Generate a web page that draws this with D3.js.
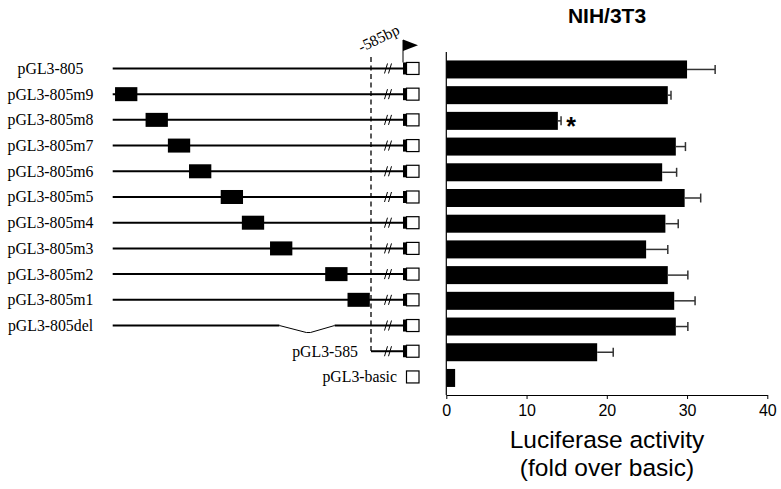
<!DOCTYPE html>
<html>
<head>
<meta charset="utf-8">
<script src="https://cdn.jsdelivr.net/npm/d3@7"></script>
<style>
  body { margin: 0; background: #fff; }
  svg { display: block; }
</style>
</head>
<body>
<svg id="chart" width="781" height="489"></svg>
<script>
// constructs, top to bottom
const constructs = ["pGL3-805", "pGL3-805m9", "pGL3-805m8", "pGL3-805m7", "pGL3-805m6",
  "pGL3-805m5", "pGL3-805m4", "pGL3-805m3", "pGL3-805m2", "pGL3-805m1",
  "pGL3-805del", "pGL3-585", "pGL3-basic"];

// luciferase activity (fold over basic) and SD
const activity = [30.0, 27.6, 13.9, 28.6, 26.9, 29.7, 27.3, 24.9, 27.6, 28.4, 28.6, 18.8, 1.1];
const errors = [3.5, 0.4, 0.4, 1.2, 1.8, 2.0, 1.6, 2.7, 2.5, 2.6, 1.5, 2.0, 0];
const significant = ["pGL3-805m8"];

// mutated blocks (bp from start site), m9 ... m1
const mutNames = ["pGL3-805m9", "pGL3-805m8", "pGL3-805m7", "pGL3-805m6", "pGL3-805m5",
  "pGL3-805m4", "pGL3-805m3", "pGL3-805m2", "pGL3-805m1"];
const mutFrom = [-803, -777, -758, -740, -713, -695, -671, -624, -605];
const mutTo = [-784, -758, -739, -721, -694, -676, -652, -605, -586];
const delRange = [-663, -616];
const xTicks = [0, 10, 20, 30, 40];

const svg = d3.select("#chart");

// scales
const y = d3.scaleBand()
    .domain(constructs)
    .range([56.6, 390.8])
    .paddingInner(0.3)
    .paddingOuter(0.15);

const x = d3.scaleLinear().domain([0, 40]).range([446.3, 767.3]);

const bp = d3.scaleLinear().domain([-805, -585]).range([112.7, 371]);

const rowY = d => y(d) + y.bandwidth() / 2 - 1;

// layout of the right end of each construct
const slashX = 386, blackX = 403, boxX = 406.5, boxW = 12.5, boxH = 12;
const serif = "'Liberation Serif', 'Times New Roman', serif";
const sans = "'Liberation Sans', Arial, sans-serif";

//////////////////////////////////////////////////////////////////
// left: construct diagrams
const diag = svg.append("g");

const promoterRows = constructs.filter(d => d.startsWith("pGL3-805"));

// labels
diag.selectAll("text.lbl")
    .data(promoterRows)
    .enter().append("text")
    .attr("class", "lbl")
    .attr("x", 50.5)
    .attr("y", d => rowY(d) + 5.5)
    .attr("text-anchor", "middle")
    .style("font-family", serif)
    .style("font-size", "15.8px")
    .text(d => d);

diag.append("text")
    .attr("x", 358)
    .attr("y", rowY("pGL3-585") + 5.5)
    .attr("text-anchor", "end")
    .style("font-family", serif)
    .style("font-size", "15.8px")
    .text("pGL3-585");

diag.append("text")
    .attr("x", 397)
    .attr("y", rowY("pGL3-basic") + 5.5)
    .attr("text-anchor", "end")
    .style("font-family", serif)
    .style("font-size", "15.8px")
    .text("pGL3-basic");

// promoter lines (full length ones)
diag.selectAll("line.full")
    .data(promoterRows.filter(d => d !== "pGL3-805del"))
    .enter().append("line")
    .attr("class", "full")
    .attr("x1", bp(-805))
    .attr("x2", blackX)
    .attr("y1", rowY)
    .attr("y2", rowY)
    .style("stroke", "#000")
    .style("stroke-width", 2);

// deletion construct
const yd = rowY("pGL3-805del");
diag.append("line")
    .attr("x1", bp(-805)).attr("x2", bp(delRange[0]))
    .attr("y1", yd).attr("y2", yd)
    .style("stroke", "#000").style("stroke-width", 2);
diag.append("line")
    .attr("x1", bp(delRange[1])).attr("x2", blackX)
    .attr("y1", yd).attr("y2", yd)
    .style("stroke", "#000").style("stroke-width", 2);
diag.append("polyline")
    .attr("points", [
      [bp(delRange[0]), yd],
      [bp(delRange[0]) + 27, yd + 7],
      [bp(delRange[0]) + 31, yd + 7],
      [bp(delRange[1]), yd]
    ].join(" "))
    .style("fill", "none")
    .style("stroke", "#000")
    .style("stroke-width", 1);

// pGL3-585 line
const y585 = rowY("pGL3-585");
diag.append("line")
    .attr("x1", bp(-585)).attr("x2", blackX)
    .attr("y1", y585).attr("y2", y585)
    .style("stroke", "#000").style("stroke-width", 2);

// dashed -585 marker
diag.append("line")
    .attr("x1", bp(-585)).attr("x2", bp(-585))
    .attr("y1", 57).attr("y2", y585)
    .style("stroke", "#000")
    .style("stroke-width", 1.3)
    .style("stroke-dasharray", "5,3.5");

diag.append("text")
    .attr("transform", "translate(381,43) rotate(-26)")
    .attr("text-anchor", "middle")
    .style("font-family", serif)
    .style("font-size", "15.5px")
    .text("-585bp");

// mutated blocks
diag.selectAll("rect.mut")
    .data(mutNames)
    .enter().append("rect")
    .attr("class", "mut")
    .attr("x", (d, i) => bp(mutFrom[i]))
    .attr("width", (d, i) => bp(mutTo[i]) - bp(mutFrom[i]))
    .attr("y", d => rowY(d) - 7)
    .attr("height", 14)
    .style("fill", "#000");

// break marks "//"
const slashed = constructs.filter(d => d !== "pGL3-basic");
[0, 4].forEach(function (off) {
  diag.selectAll(null)
      .data(slashed)
      .enter().append("line")
      .attr("x1", slashX + off - 1.5)
      .attr("x2", slashX + off + 1.5)
      .attr("y1", d => rowY(d) + 5)
      .attr("y2", d => rowY(d) - 5)
      .style("stroke", "#000")
      .style("stroke-width", 1);
});

// small black piece + open reporter box
diag.selectAll("rect.black")
    .data(slashed)
    .enter().append("rect")
    .attr("class", "black")
    .attr("x", blackX)
    .attr("width", boxX - blackX)
    .attr("y", d => rowY(d) - boxH / 2)
    .attr("height", boxH)
    .style("fill", "#000");

diag.selectAll("rect.box")
    .data(constructs)
    .enter().append("rect")
    .attr("class", "box")
    .attr("x", boxX)
    .attr("width", boxW)
    .attr("y", d => rowY(d) - boxH / 2)
    .attr("height", boxH)
    .style("fill", "#fff")
    .style("stroke", "#000")
    .style("stroke-width", 1.2);

// transcription start arrow
const y805 = rowY("pGL3-805") - boxH / 2;
diag.append("line")
    .attr("x1", blackX).attr("x2", blackX)
    .attr("y1", y805).attr("y2", 40)
    .style("stroke", "#000").style("stroke-width", 1);
diag.append("path")
    .attr("d", `M${blackX},39.5 L${blackX},51 L${blackX + 15},45.2 Z`)
    .style("fill", "#000");

//////////////////////////////////////////////////////////////////
// right: bar chart
const chart = svg.append("g");

chart.append("text")
    .attr("x", 607)
    .attr("y", 23)
    .attr("text-anchor", "middle")
    .style("font-family", sans)
    .style("font-weight", "bold")
    .style("font-size", "21px")
    .text("NIH/3T3");

chart.selectAll("rect.bar")
    .data(constructs)
    .enter().append("rect")
    .attr("class", "bar")
    .attr("x", x(0))
    .attr("y", d => y(d))
    .attr("height", y.bandwidth())
    .attr("width", (d, i) => x(activity[i]) - x(0))
    .style("fill", "#000");

// error bars
const err = chart.selectAll("g.err")
    .data(constructs.filter((d, i) => errors[i] > 0))
    .enter().append("g")
    .attr("class", "err")
    .style("stroke", "#333")
    .style("stroke-width", 1.5);

err.append("line")
    .attr("x1", d => x(activity[constructs.indexOf(d)]))
    .attr("x2", d => { const i = constructs.indexOf(d); return x(activity[i] + errors[i]); })
    .attr("y1", d => y(d) + y.bandwidth() / 2)
    .attr("y2", d => y(d) + y.bandwidth() / 2);

err.append("line")
    .attr("x1", d => { const i = constructs.indexOf(d); return x(activity[i] + errors[i]); })
    .attr("x2", d => { const i = constructs.indexOf(d); return x(activity[i] + errors[i]); })
    .attr("y1", d => y(d) + y.bandwidth() / 2 - 4.5)
    .attr("y2", d => y(d) + y.bandwidth() / 2 + 4.5);

// significance mark
chart.selectAll("text.star")
    .data(significant)
    .enter().append("text")
    .attr("class", "star")
    .attr("x", d => { const i = constructs.indexOf(d); return x(activity[i] + errors[i]) + 10; })
    .attr("y", d => y(d) + y.bandwidth() / 2 + 14)
    .attr("text-anchor", "middle")
    .style("font-family", sans)
    .style("font-weight", "bold")
    .style("font-size", "25px")
    .text("*");

// axes
chart.append("line")
    .attr("x1", x(0)).attr("x2", x(0))
    .attr("y1", 52).attr("y2", 395)
    .style("stroke", "#000").style("stroke-width", 1.2);

const xAxis = chart.append("g")
    .attr("transform", "translate(0,395)")
    .call(d3.axisBottom(x).tickValues(xTicks).tickSize(4).tickSizeOuter(0).tickPadding(6));

xAxis.select(".domain").style("stroke-width", 1.2);
xAxis.selectAll("text")
    .style("font-family", sans)
    .style("font-size", "16px");

chart.append("text")
    .attr("x", 607)
    .attr("y", 448)
    .attr("text-anchor", "middle")
    .style("font-family", sans)
    .style("font-size", "24.5px")
    .text("Luciferase activity");

chart.append("text")
    .attr("x", 607)
    .attr("y", 476)
    .attr("text-anchor", "middle")
    .style("font-family", sans)
    .style("font-size", "24.5px")
    .text("(fold over basic)");
</script>
</body>
</html>
